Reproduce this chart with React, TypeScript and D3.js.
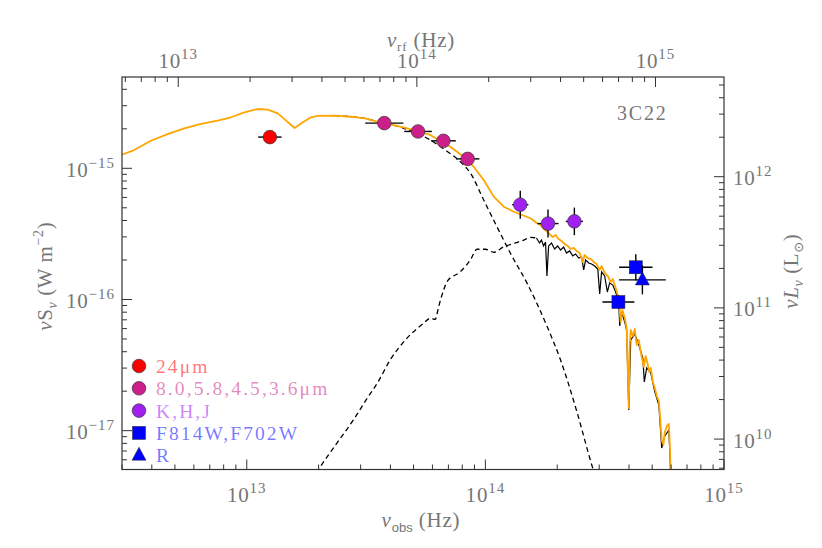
import React from "react";
import * as d3 from "d3";

// frame geometry (pixels)
const W = 822;
const H = 548;
const frame = { left: 122, right: 724, top: 77, bottom: 469.5 };

const redshift = 0.937;
const lumFactor = Math.pow(10, 27.064); // W m^-2 -> L_sun at 3C22

// photometry: frequency (Hz), nuS_nu (W m^-2), errors in dex
const mipsNu = [1.25e13];
const mipsFlux = [1.73e-15];
const mipsXerr = [0.049];

const iracNu = [3.77e13, 5.22e13, 6.67e13, 8.43e13];
const iracFlux = [2.21e-15, 1.91e-15, 1.62e-15, 1.18e-15];
const iracXerr = [0.08, 0.058, 0.052, 0.049];

const nirNu = [1.4e14, 1.83e14, 2.36e14];
const nirFlux = [5.28e-16, 3.79e-16, 3.94e-16];
const nirXerr = [0.034, 0.044, 0.036];
const nirYerr = [0.107, 0.107, 0.105];

const hstNu = [4.27e14, 3.61e14];
const hstFlux = [1.76e-16, 9.57e-17];
const hstXerr = [0.07, 0.067];
const hstYerr = [0.1, 0.05];

const rNu = [4.55e14];
const rFlux = [1.41e-16];
const rXerr = [0.098];
const rYerr = [0.11];

// models: [log nu, log nuS_nu]
const totalModel = [
  [12.45, -14.914], [12.472, -14.899], [12.528, -14.861], [12.598, -14.79], [12.668, -14.739],
  [12.738, -14.695], [12.808, -14.662], [12.878, -14.637], [12.934, -14.611], [12.99, -14.573],
  [13.046, -14.548], [13.088, -14.553], [13.13, -14.581], [13.165, -14.637], [13.2, -14.693],
  [13.235, -14.649], [13.27, -14.611], [13.298, -14.601], [13.368, -14.599], [13.438, -14.607],
  [13.495, -14.619], [13.543, -14.642], [13.657, -14.688], [13.769, -14.746], [13.853, -14.835],
  [13.909, -14.912], [13.951, -14.988], [13.993, -15.089], [14.035, -15.216], [14.077, -15.293],
  [14.119, -15.331], [14.189, -15.381], [14.217, -15.419],
  [14.231, -15.432], [14.244, -15.463], [14.256, -15.478], [14.269, -15.501], [14.282, -15.524],
  [14.294, -15.508], [14.307, -15.539], [14.319, -15.554], [14.332, -15.577], [14.345, -15.592],
  [14.357, -15.615], [14.37, -15.607], [14.382, -15.63], [14.395, -15.646], [14.408, -15.714],
  [14.416, -15.661], [14.429, -15.684], [14.441, -15.691], [14.454, -15.714], [14.466, -15.729],
  [14.479, -15.775], [14.487, -15.745], [14.5, -15.798], [14.513, -15.821], [14.525, -15.867],
  [14.534, -15.844], [14.546, -15.912], [14.559, -15.989], [14.567, -16.172], [14.574, -16.08],
  [14.584, -16.141], [14.592, -16.217], [14.601, -16.827], [14.605, -16.347], [14.609, -16.232],
  [14.618, -16.278], [14.626, -16.225], [14.634, -16.347], [14.643, -16.309], [14.651, -16.4],
  [14.658, -16.461], [14.664, -16.514], [14.672, -16.431], [14.681, -16.499], [14.687, -16.553],
  [14.693, -16.522], [14.702, -16.629], [14.71, -16.675], [14.718, -16.736], [14.727, -16.774],
  [14.733, -16.918], [14.739, -17.071], [14.746, -17.109], [14.752, -17.01], [14.761, -16.964],
  [14.769, -16.949], [14.773, -17.109], [14.777, -17.342],
];

const agnModel = [
  [13.368, -14.599], [13.438, -14.607], [13.495, -14.619], [13.543, -14.642], [13.655, -14.693],
  [13.769, -14.784], [13.832, -14.861], [13.895, -14.95], [13.937, -15.036], [13.993, -15.242],
  [14.049, -15.447], [14.105, -15.648], [14.175, -15.877], [14.259, -16.207], [14.315, -16.461],
  [14.385, -16.865], [14.448, -17.274], [14.466, -17.376],
];

const stellarModel = [
  [13.273, -17.376], [13.304, -17.287], [13.377, -17.096], [13.447, -16.918], [13.5, -16.766],
  [13.55, -16.629], [13.601, -16.461], [13.671, -16.296], [13.741, -16.181], [13.769, -16.143],
  [13.79, -16.151], [13.804, -16.055], [13.825, -15.928], [13.839, -15.864], [13.895, -15.788],
  [13.937, -15.699], [13.965, -15.617], [14.0, -15.617], [14.035, -15.64], [14.077, -15.598],
  [14.126, -15.569], [14.161, -15.547], [14.189, -15.526], [14.214, -15.531],
];

const stellarSpectrum = [
  [14.214, -15.531], [14.227, -15.569], [14.235, -15.547], [14.244, -15.592], [14.252, -15.562],
  [14.258, -15.821], [14.265, -15.592], [14.277, -15.569], [14.29, -15.615], [14.303, -15.592],
  [14.315, -15.623], [14.328, -15.6], [14.34, -15.646], [14.353, -15.63], [14.366, -15.668],
  [14.378, -15.653], [14.391, -15.684], [14.403, -15.676], [14.412, -15.775], [14.42, -15.699],
  [14.433, -15.722], [14.445, -15.729], [14.458, -15.745], [14.471, -15.768], [14.479, -15.958],
  [14.487, -15.79], [14.5, -15.821], [14.511, -15.943], [14.521, -15.874], [14.534, -15.89],
  [14.546, -15.943], [14.559, -16.027], [14.563, -16.202], [14.571, -16.095], [14.584, -16.172],
  [14.592, -16.232], [14.601, -16.842], [14.609, -16.309], [14.626, -16.263], [14.643, -16.347],
  [14.66, -16.446], [14.666, -16.629], [14.676, -16.522], [14.693, -16.56], [14.71, -16.705],
  [14.727, -16.804], [14.739, -17.132], [14.752, -17.04], [14.769, -16.995], [14.777, -17.345],
];

const legendLabels = ["24\u03bcm", "8.0,5.8,4.5,3.6\u03bcm", "K,H,J", "F814W,F702W", "R"];
const legendColors = ["#ff0000", "#cc1f8c", "#a020f0", "#0000ff", "#0000ff"];
const legendShapes = ["circle", "circle", "circle", "square", "triangle"];

const serif = "'Liberation Serif', 'DejaVu Serif', serif";
const grey = "#767676";

const x = d3.scaleLog().domain([3.0e12, 1.0e15]).range([frame.left, frame.right]);
const y = d3
  .scaleLog()
  .domain([Math.pow(10, -17.296), Math.pow(10, -14.304)])
  .range([frame.bottom, frame.top]);
const xTop = d3.scaleLog().domain(x.domain().map((v) => v * (1 + redshift))).range(x.range());
const yRight = d3.scaleLog().domain(y.domain().map((v) => v * lumFactor)).range(y.range());

const isMajor = (v) => Math.abs(Math.log10(v) - Math.round(Math.log10(v))) < 1e-6;

const Pow = ({ px, py, exp, anchor }) => (
  <text x={px} y={py} textAnchor={anchor} fontFamily={serif} fontSize={21} fill={grey} letterSpacing={0.8}>
    10
    <tspan dy={-9} fontSize={15} letterSpacing={1}>
      {exp < 0 ? "\u2212" + Math.abs(exp) : exp}
    </tspan>
  </text>
);

const Marker = ({ shape, cx, cy, color }) => {
  if (shape === "square")
    return <rect x={cx - 6.5} y={cy - 6.5} width={13} height={13} fill={color} stroke="#222" strokeWidth={0.5} />;
  if (shape === "triangle")
    return (
      <path
        d={`M${cx},${cy - 8}L${cx + 7},${cy + 5}L${cx - 7},${cy + 5}Z`}
        fill={color}
        stroke="#222"
        strokeWidth={0.5}
      />
    );
  return <circle cx={cx} cy={cy} r={6.8} fill={color} stroke="#333" strokeWidth={0.7} />;
};

const Points = ({ nu, flux, xerr, yerr, shape, color }) => (
  <g>
    {nu.map((n, i) => {
      const cx = x(n);
      const cy = y(flux[i]);
      const dx = xerr ? xerr[i] : 0;
      const dy = yerr ? yerr[i] : 0;
      return (
        <g key={i}>
          <line x1={x(n / Math.pow(10, dx))} x2={x(n * Math.pow(10, dx))} y1={cy} y2={cy} stroke="#000" strokeWidth={1.4} />
          {dy > 0 && (
            <line
              x1={cx}
              x2={cx}
              y1={y(flux[i] / Math.pow(10, dy))}
              y2={y(flux[i] * Math.pow(10, dy))}
              stroke="#000"
              strokeWidth={1.4}
            />
          )}
          <Marker shape={shape} cx={cx} cy={cy} color={color} />
        </g>
      );
    })}
  </g>
);

export default function App() {
  const line = d3
    .line()
    .x((d) => x(Math.pow(10, d[0])))
    .y((d) => y(Math.pow(10, d[1])));
  const smooth = d3
    .line()
    .curve(d3.curveMonotoneX)
    .x((d) => x(Math.pow(10, d[0])))
    .y((d) => y(Math.pow(10, d[1])));

  const xt = x.ticks();
  const xtt = xTop.ticks();
  const yt = y.ticks();
  const yrt = yRight.ticks();
  const fw = frame.right - frame.left;
  const fh = frame.bottom - frame.top;
  const midY = (frame.top + frame.bottom) / 2;

  return (
    <svg
      width={W}
      height={H}
      style={{ position: "absolute", left: 0, top: 0, background: "#fff" }}
    >
      <defs>
        <clipPath id="plotArea">
          <rect x={frame.left} y={frame.top} width={fw} height={fh} />
        </clipPath>
      </defs>

      <g clipPath="url(#plotArea)" fill="none">
        <path d={smooth(stellarModel)} stroke="#000" strokeWidth={1.3} strokeDasharray="5,3.5" />
        <path d={smooth(agnModel)} stroke="#000" strokeWidth={1.3} strokeDasharray="5,3.5" />
        <path d={line(stellarSpectrum)} stroke="#000" strokeWidth={1.2} />
        <path d={line(totalModel)} stroke="#ffa500" strokeWidth={1.8} strokeLinejoin="round" />
      </g>

      <Points nu={mipsNu} flux={mipsFlux} xerr={mipsXerr} shape="circle" color={legendColors[0]} />
      <Points nu={iracNu} flux={iracFlux} xerr={iracXerr} shape="circle" color={legendColors[1]} />
      <Points nu={nirNu} flux={nirFlux} xerr={nirXerr} yerr={nirYerr} shape="circle" color={legendColors[2]} />
      <Points nu={hstNu} flux={hstFlux} xerr={hstXerr} yerr={hstYerr} shape="square" color={legendColors[3]} />
      <Points nu={rNu} flux={rFlux} xerr={rXerr} yerr={rYerr} shape="triangle" color={legendColors[4]} />

      {/* frame and ticks */}
      <rect x={frame.left} y={frame.top} width={fw} height={fh} fill="none" stroke="#333" strokeWidth={1.2} />
      <g stroke="#333" strokeWidth={1}>
        {xt.map((v, i) => {
          const len = isMajor(v) ? 10 : 5;
          return <line key={"b" + i} x1={x(v)} x2={x(v)} y1={frame.bottom} y2={frame.bottom - len} />;
        })}
        {xtt.map((v, i) => {
          const len = isMajor(v) ? 10 : 5;
          return <line key={"t" + i} x1={xTop(v)} x2={xTop(v)} y1={frame.top} y2={frame.top + len} />;
        })}
        {yt.map((v, i) => {
          const len = isMajor(v) ? 10 : 5;
          return <line key={"l" + i} x1={frame.left} x2={frame.left + len} y1={y(v)} y2={y(v)} />;
        })}
        {yrt.map((v, i) => {
          const len = isMajor(v) ? 10 : 5;
          return <line key={"r" + i} x1={frame.right} x2={frame.right - len} y1={yRight(v)} y2={yRight(v)} />;
        })}
      </g>

      {xt.filter(isMajor).map((v) => (
        <Pow key={"bl" + v} px={x(v)} py={502} exp={Math.round(Math.log10(v))} anchor="middle" />
      ))}
      {xtt.filter(isMajor).map((v) => (
        <Pow key={"tl" + v} px={xTop(v)} py={68} exp={Math.round(Math.log10(v))} anchor="middle" />
      ))}
      {yt.filter(isMajor).map((v) => (
        <Pow key={"ll" + v} px={115} py={y(v) + 8.5} exp={Math.round(Math.log10(v))} anchor="end" />
      ))}
      {yrt.filter(isMajor).map((v) => (
        <Pow key={"rl" + v} px={733} py={yRight(v) + 8.5} exp={Math.round(Math.log10(v))} anchor="start" />
      ))}

      {/* axis titles */}
      <text x={421} y={527} textAnchor="middle" fontFamily={serif} fontSize={21} fill={grey} letterSpacing={0.8}>
        <tspan fontStyle="italic">{"\u03bd"}</tspan>
        <tspan dy={5} fontSize={13} fontFamily="'Liberation Sans', sans-serif" letterSpacing={0}>obs</tspan>
        <tspan dy={-5}>{"  (Hz)"}</tspan>
      </text>
      <text x={421} y={47} textAnchor="middle" fontFamily={serif} fontSize={21} fill={grey} letterSpacing={0.8}>
        <tspan fontStyle="italic">{"\u03bd"}</tspan>
        <tspan dy={4} fontSize={13}>rf</tspan>
        <tspan dy={-4}>{"  (Hz)"}</tspan>
      </text>
      <text
        transform={`translate(52,${midY + 3}) rotate(-90)`}
        textAnchor="middle"
        fontFamily={serif}
        fontSize={21}
        fill={grey}
        letterSpacing={0.6}
      >
        <tspan fontStyle="italic">{"\u03bd"}</tspan>
        <tspan>S</tspan>
        <tspan dy={5} fontSize={14} fontStyle="italic">{"\u03bd"}</tspan>
        <tspan dy={-5}>{" (W  m"}</tspan>
        <tspan dy={-9} fontSize={14}>{"\u22122"}</tspan>
        <tspan dy={9}>)</tspan>
      </text>
      <text
        transform={`translate(798,${midY - 2}) rotate(-90)`}
        textAnchor="middle"
        fontFamily={serif}
        fontSize={21}
        fill={grey}
        letterSpacing={0.6}
      >
        <tspan fontStyle="italic">{"\u03bdL"}</tspan>
        <tspan dy={5} fontSize={14} fontStyle="italic">{"\u03bd"}</tspan>
        <tspan dy={-5}>{"  (L"}</tspan>
        <tspan dy={5} fontSize={13} fontFamily="'DejaVu Sans', sans-serif">{"\u2299"}</tspan>
        <tspan dy={-5}>)</tspan>
      </text>

      <text x={617} y={120} fontFamily={serif} fontSize={20} fill={grey} letterSpacing={1.8}>
        3C22
      </text>

      {/* legend */}
      {legendLabels.map((lab, i) => {
        const ly = 366 + i * 22.3;
        return (
          <g key={lab}>
            <Marker shape={legendShapes[i]} cx={139} cy={ly} color={legendColors[i]} />
            <text
              x={156}
              y={ly + 7}
              fontFamily={serif}
              fontSize={19.5}
              fill={legendColors[i]}
              fillOpacity={0.55}
              letterSpacing={2.1}
            >
              {lab}
            </text>
          </g>
        );
      })}
    </svg>
  );
}
